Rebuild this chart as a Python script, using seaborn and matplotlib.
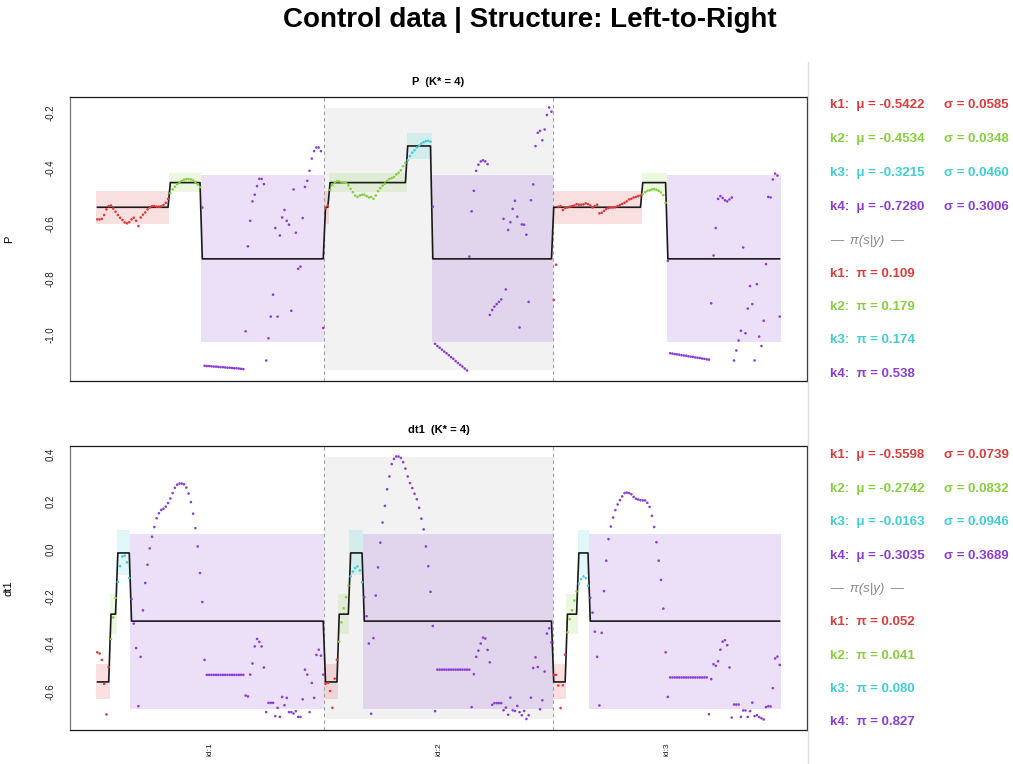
import matplotlib
matplotlib.use("Agg")
import matplotlib.pyplot as plt
from matplotlib.patches import Rectangle
from matplotlib.lines import Line2D
import seaborn as sns
import pandas as pd

sns.set_style("white")
plt.rcParams['font.family'] = ['Liberation Sans', 'DejaVu Sans']
plt.rcParams['text.color'] = 'black'
plt.rcParams['axes.labelcolor'] = 'black'
plt.rcParams['xtick.color'] = '#222222'
plt.rcParams['ytick.color'] = '#222222'

STATES = ["k1", "k2", "k3", "k4"]
STATE_COLORS = ["#DE3C3C", "#86CF3E", "#3FCDD6", "#8B3DD6"]
ID_LABELS = ["id:1", "id:2", "id:3"]
TITLE = "Control data | Structure: Left-to-Right"

# ---------------- Panel P ----------------
P_MU = [-0.5422, -0.4534, -0.3215, -0.7280]
P_SIGMA = [0.0585, 0.0348, 0.0460, 0.3006]
P_PI = [0.109, 0.179, 0.174, 0.538]
P_YTICKS = [-1.0, -0.8, -0.6, -0.4, -0.2]
P_RUNS = [
    [("k1", 32), ("k2", 14), ("k4", 54)],
    [("k1", 2), ("k2", 34), ("k3", 11), ("k4", 53)],
    [("k1", 39), ("k2", 11), ("k4", 50)],
]
P_ID1 = [-0.586, -0.586, -0.584, -0.570, -0.550, -0.538, -0.536, -0.547, -0.558, -0.570,
         -0.580, -0.588, -0.597, -0.600, -0.596, -0.586, -0.580, -0.591, -0.610, -0.579,
         -0.569, -0.561, -0.550, -0.543, -0.538, -0.538, -0.540, -0.540, -0.539, -0.534,
         -0.526, -0.512,
         -0.492, -0.478, -0.468, -0.459, -0.452, -0.447, -0.443, -0.441, -0.441, -0.442,
         -0.445, -0.451, -0.460, -0.470,
         -0.543,
         -1.113, -1.114, -1.114, -1.115, -1.116, -1.116, -1.117, -1.118, -1.118, -1.119,
         -1.120, -1.120, -1.121, -1.122, -1.122, -1.123, -1.124, -1.125,
         -0.989, -0.683, -0.591, -0.521, -0.497, -0.466, -0.440, -0.440, -0.459, -1.094,
         -1.014, -0.936, -0.857, -0.617, -0.936, -0.644, -0.579, -0.552, -0.591, -0.605,
         -0.915, -0.478, -0.634, -0.764, -0.756, -0.581, -0.469, -0.447, -0.411, -0.367,
         -0.340, -0.327, -0.327, -0.340, -0.977]
P_ID2 = [-0.545, -0.536,
         -0.480, -0.463, -0.453, -0.449, -0.449, -0.452, -0.454, -0.454, -0.463, -0.476,
         -0.488, -0.500, -0.505, -0.500, -0.497, -0.497, -0.502, -0.507, -0.505, -0.512,
         -0.500, -0.484, -0.473, -0.464, -0.457, -0.447, -0.440, -0.437, -0.433, -0.424,
         -0.418, -0.409, -0.394, -0.382,
         -0.373, -0.358, -0.346, -0.337, -0.327, -0.320, -0.313, -0.308, -0.304, -0.303,
         -0.306,
         -0.540,
         -1.034, -1.042, -1.048, -1.055, -1.062, -1.068, -1.075, -1.082, -1.088, -1.096,
         -1.103, -1.110, -1.116, -1.123, -1.130,
         -0.720, -0.557, -0.483, -0.411, -0.389, -0.377, -0.373, -0.377, -0.387, -0.930,
         -0.912, -0.900, -0.891, -0.883, -0.874, -0.584, -0.838, -0.624, -0.596, -0.548,
         -0.519, -0.576, -0.975, -0.604, -0.605, -0.641, -0.883, -0.517, -0.460, -0.322,
         -0.274, -0.267, -0.301, -0.262, -0.210, -0.183, -0.198]
P_ID3 = [-0.876, -0.749, -0.540, -0.538, -0.552, -0.545, -0.543, -0.540, -0.538, -0.536,
         -0.531, -0.533, -0.533, -0.532, -0.528, -0.531, -0.536, -0.543, -0.538, -0.533,
         -0.564, -0.562, -0.555, -0.548, -0.545, -0.543, -0.543, -0.542, -0.538, -0.534,
         -0.530, -0.526, -0.521, -0.514, -0.512, -0.507, -0.505, -0.502, -0.500,
         -0.495, -0.488, -0.483, -0.481, -0.478, -0.477, -0.479, -0.483, -0.489, -0.498,
         -0.526,
         -0.735,
         -1.068, -1.069, -1.071, -1.072, -1.073, -1.075, -1.076, -1.077, -1.079, -1.080,
         -1.081, -1.083, -1.084, -1.085, -1.087, -1.088, -1.090, -1.091,
         -0.888, -0.716, -0.617, -0.512, -0.502, -0.509, -0.517, -0.521, -0.514, -0.507,
         -1.094, -1.058, -1.022, -0.987, -0.687, -0.996, -0.907, -0.826, -0.891, -1.094,
         -0.819, -1.008, -1.042, -0.951, -0.747, -0.505, -0.507, -0.442, -0.421, -0.428,
         -0.936]

# ---------------- Panel dt1 ----------------
D_MU = [-0.5598, -0.2742, -0.0163, -0.3035]
D_SIGMA = [0.0739, 0.0832, 0.0946, 0.3689]
D_PI = [0.052, 0.041, 0.080, 0.827]
D_YTICKS = [-0.6, -0.4, -0.2, 0.0, 0.2, 0.4]
D_RUNS = [
    [("k1", 6), ("k2", 3), ("k3", 6), ("k4", 85)],
    [("k1", 6), ("k2", 5), ("k3", 6), ("k4", 83)],
    [("k1", 6), ("k2", 5), ("k3", 5), ("k4", 84)],
]
D_ID1 = [-0.435, -0.440, -0.467, -0.568, -0.697, -0.497,
         -0.379, -0.288, -0.206,
         -0.139, -0.072, -0.031, -0.028, -0.056, -0.122,
         -0.210, -0.314, -0.417, -0.662, -0.454, -0.258, -0.143, -0.066, 0.003, 0.052,
         0.093, 0.130, 0.151, 0.165, 0.170, 0.179, 0.194, 0.213, 0.236, 0.258,
         0.271, 0.276, 0.276, 0.273, 0.259, 0.234, 0.198, 0.149, 0.088, 0.011,
         -0.101, -0.223, -0.467,
         -0.530, -0.530, -0.530, -0.530, -0.530, -0.530, -0.530, -0.530, -0.530, -0.530,
         -0.530, -0.530, -0.530, -0.530, -0.530, -0.530, -0.530,
         -0.617, -0.621, -0.529, -0.482, -0.410, -0.379, -0.391, -0.410, -0.499, -0.687,
         -0.648, -0.648, -0.648, -0.704, -0.669, -0.707, -0.623, -0.658, -0.627, -0.687,
         -0.687, -0.693, -0.683, -0.707, -0.707, -0.633, -0.508, -0.529, -0.687, -0.564,
         -0.627, -0.446, -0.424, -0.449, -0.529]
D_ID2 = [-0.568, -0.564, -0.598, -0.669, -0.546, -0.466,
         -0.390, -0.309, -0.250, -0.203, -0.154,
         -0.115, -0.095, -0.080, -0.073, -0.090, -0.140,
         -0.203, -0.283, -0.398, -0.694, -0.375, -0.196, -0.077, 0.027, 0.112, 0.182,
         0.252, 0.306, 0.358, 0.380, 0.390, 0.390, 0.384, 0.366, 0.339, 0.306,
         0.278, 0.257, 0.233, 0.210, 0.174, 0.128, 0.083, 0.011, -0.072, -0.180,
         -0.324, -0.683,
         -0.508, -0.508, -0.508, -0.508, -0.508, -0.508, -0.508, -0.508, -0.508, -0.508,
         -0.508, -0.508, -0.508, -0.508, -0.508,
         -0.666, -0.527, -0.454, -0.428, -0.398, -0.373, -0.377, -0.425, -0.477, -0.656,
         -0.649, -0.649, -0.649, -0.649, -0.679, -0.668, -0.698, -0.626, -0.679, -0.682,
         -0.661, -0.687, -0.700, -0.682, -0.716, -0.700, -0.626, -0.501, -0.456, -0.497,
         -0.675, -0.637, -0.516, -0.356, -0.334, -0.393]
D_ID3 = [-0.530, -0.530, -0.575, -0.670, -0.574, -0.445,
         -0.351, -0.295, -0.258, -0.217, -0.178,
         -0.146, -0.126, -0.115, -0.122, -0.154,
         -0.205, -0.268, -0.348, -0.454, -0.659, -0.353, -0.177, -0.049, 0.042, 0.095,
         0.133, 0.164, 0.188, 0.206, 0.222, 0.236, 0.238, 0.236, 0.231, 0.220,
         0.212, 0.209, 0.206, 0.205, 0.205, 0.195, 0.178, 0.140, 0.093, 0.029,
         -0.049, -0.130, -0.251, -0.435, -0.623,
         -0.541, -0.541, -0.541, -0.541, -0.541, -0.541, -0.541, -0.541, -0.541, -0.541,
         -0.541, -0.541, -0.541, -0.541, -0.541, -0.541, -0.541,
         -0.696, -0.548, -0.485, -0.492, -0.473, -0.424, -0.390, -0.384, -0.405, -0.499,
         -0.710, -0.655, -0.655, -0.655, -0.707, -0.680, -0.680, -0.707, -0.683, -0.647,
         -0.704, -0.700, -0.708, -0.713, -0.718, -0.666, -0.662, -0.663, -0.586, -0.461,
         -0.453, -0.488]

PALETTE = dict(zip(STATES, STATE_COLORS))
FW, FH = 1013, 764


def build(values_by_id, runs_by_id, mu, sigma):
    rows = []
    t = 0
    for k, (vals, runs) in enumerate(zip(values_by_id, runs_by_id)):
        states = []
        for s, n in runs:
            states += [s] * n
        assert len(states) == len(vals), (k, len(states), len(vals))
        for v, s in zip(vals, states):
            t += 1
            rows.append((t, ID_LABELS[k], s, v))
    df = pd.DataFrame(rows, columns=["t", "id", "state", "value"])
    df["mean"] = df["state"].map(dict(zip(STATES, mu)))
    df["sd"] = df["state"].map(dict(zip(STATES, sigma)))
    return df


def draw_panel(ax, df, yticks, ylabel, show_x):
    n = len(df)
    pad = 0.04 * (n - 1)
    ax.set_xlim(1 - pad, n + pad)
    vmin, vmax = df["value"].min(), df["value"].max()
    rng = vmax - vmin
    ax.set_ylim(vmin - 0.04 * rng, vmax + 0.04 * rng)

    groups = list(df.groupby("id", sort=False))
    # grey background for the middle id
    for k, (lab, g) in enumerate(groups):
        if k % 2 == 1:
            ax.add_patch(Rectangle((g["t"].min() - 0.5, g["value"].min()),
                                   g["t"].max() - g["t"].min() + 1,
                                   g["value"].max() - g["value"].min(),
                                   facecolor="#F2F2F2", edgecolor="none", zorder=0))
    # regime boxes (mu +/- sigma)
    run_id = ((df["state"] != df["state"].shift()) | (df["id"] != df["id"].shift())).cumsum()
    for _, r in df.groupby(run_id):
        s = r["state"].iloc[0]
        m = r["mean"].iloc[0]
        sd = r["sd"].iloc[0]
        ax.add_patch(Rectangle((r["t"].min() - 0.5, m - sd), len(r), 2 * sd,
                               facecolor=PALETTE[s], alpha=0.16, edgecolor="none", zorder=1))
    # id boundaries
    for lab, g in groups[:-1]:
        ax.axvline(g["t"].max() + 0.5, color="#A0A0A0", ls=(0, (3, 3)), lw=0.8, zorder=2)

    sns.lineplot(data=df, x="t", y="mean", estimator=None, sort=False, color="#1A1A1A",
                 lw=1.2, ax=ax, zorder=3)
    sns.scatterplot(data=df, x="t", y="value", hue="state", palette=PALETTE, s=3.5,
                    linewidth=0, legend=False, ax=ax, zorder=4)

    ax.set_yticks(yticks)
    ax.set_yticklabels([f"{v:.1f}" for v in yticks], rotation=90, va="center", fontsize=7)
    ax.tick_params(axis="y", length=5.5, width=0.8, pad=5, color="#555555")
    if show_x:
        centers = [(g["t"].min() + g["t"].max()) / 2 for _, g in groups]
        ax.set_xticks(centers)
        ax.set_xticklabels(ID_LABELS, rotation=90, fontsize=6)
        ax.tick_params(axis="x", length=0, pad=9)
    else:
        ax.set_xticks([])
    ax.set_xlabel("")
    ax.set_ylabel(ylabel, fontsize=8)
    ax.yaxis.set_label_coords((14 - 70) / 737, 0.5)
    for sp in ax.spines.values():
        sp.set_visible(True)
        sp.set_color("#1A1A1A")
        sp.set_linewidth(0.9)
    ax.spines["left"].set_color("#777777")


def draw_legend(fig, y_rows, mu, sigma, pi):
    def fy(py):
        return 1 - py / FH
    for k in range(4):
        fig.text(830 / FW, fy(y_rows[k]), f"{STATES[k]}:  \u03bc = {mu[k]:.4f}",
                 color=STATE_COLORS[k], fontsize=9.5, weight="bold", va="center", ha="left")
        fig.text(944 / FW, fy(y_rows[k]), f"\u03c3 = {sigma[k]:.4f}",
                 color=STATE_COLORS[k], fontsize=9.5, weight="bold", va="center", ha="left")
    fig.text(830 / FW, fy(y_rows[4]), "\u2014\u2002\u03c0(s|y)\u2002\u2014", color="#888888",
             fontsize=9.5, style="italic", va="center", ha="left")
    for k in range(4):
        fig.text(830 / FW, fy(y_rows[5 + k]), f"{STATES[k]}:  \u03c0 = {pi[k]:.3f}",
                 color=STATE_COLORS[k], fontsize=9.5, weight="bold", va="center", ha="left")


dfP = build([P_ID1, P_ID2, P_ID3], P_RUNS, P_MU, P_SIGMA)
dfD = build([D_ID1, D_ID2, D_ID3], D_RUNS, D_MU, D_SIGMA)

fig = plt.figure(figsize=(FW / 100, FH / 100), dpi=100)
ax1 = fig.add_axes([70 / FW, 1 - 381 / FH, 737 / FW, 284 / FH])
ax2 = fig.add_axes([70 / FW, 1 - 730 / FH, 737 / FW, 284 / FH])

draw_panel(ax1, dfP, P_YTICKS, "P", False)
draw_panel(ax2, dfD, D_YTICKS, "dt1", True)

cx = (70 + 807) / 2 / FW
fig.text(cx, 1 - 82 / FH, "P  (K* = 4)", fontsize=8, weight="bold", ha="center", va="center")
fig.text(cx, 1 - 430 / FH, "dt1  (K* = 4)", fontsize=8, weight="bold", ha="center", va="center")
fig.text(530 / FW, 1 - 20 / FH, TITLE, fontsize=20, weight="bold", ha="center", va="center")

fig.add_artist(Line2D([807.5 / FW, 807.5 / FW], [0, 1 - 62 / FH], transform=fig.transFigure,
                      color="#DDDDDD", lw=1))

draw_legend(fig, [105, 139, 173, 207, 241, 274, 307, 340, 374], P_MU, P_SIGMA, P_PI)
draw_legend(fig, [455, 489, 522, 556, 589, 622, 656, 689, 722], D_MU, D_SIGMA, D_PI)

fig.savefig("out.png", dpi=100)
